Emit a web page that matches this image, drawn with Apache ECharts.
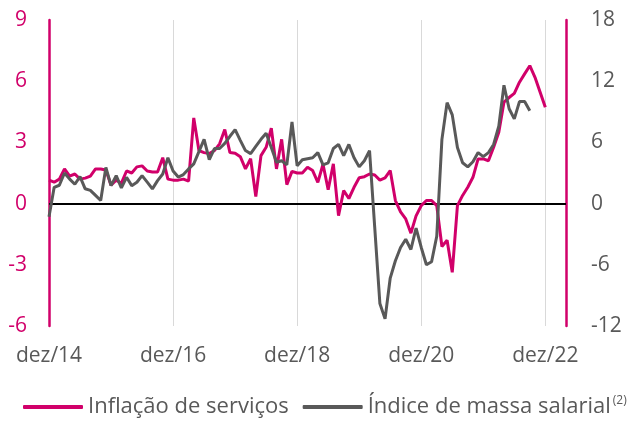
<!DOCTYPE html>
<html>
<head>
<meta charset="utf-8">
<script src="https://cdn.jsdelivr.net/npm/echarts@6/dist/echarts.min.js"></script>
<style>
html,body{margin:0;padding:0;background:#fff;}
#chart{width:637px;height:430px;}
</style>
</head>
<body>
<div id="chart"></div>
<script>
// Monthly categories, dez/14 .. abr/23
const categories = [
 'dez/14',
 'jan/15','fev/15','mar/15','abr/15','mai/15','jun/15','jul/15','ago/15','set/15','out/15','nov/15','dez/15',
 'jan/16','fev/16','mar/16','abr/16','mai/16','jun/16','jul/16','ago/16','set/16','out/16','nov/16','dez/16',
 'jan/17','fev/17','mar/17','abr/17','mai/17','jun/17','jul/17','ago/17','set/17','out/17','nov/17','dez/17',
 'jan/18','fev/18','mar/18','abr/18','mai/18','jun/18','jul/18','ago/18','set/18','out/18','nov/18','dez/18',
 'jan/19','fev/19','mar/19','abr/19','mai/19','jun/19','jul/19','ago/19','set/19','out/19','nov/19','dez/19',
 'jan/20','fev/20','mar/20','abr/20','mai/20','jun/20','jul/20','ago/20','set/20','out/20','nov/20','dez/20',
 'jan/21','fev/21','mar/21','abr/21','mai/21','jun/21','jul/21','ago/21','set/21','out/21','nov/21','dez/21',
 'jan/22','fev/22','mar/22','abr/22','mai/22','jun/22','jul/22','ago/22','set/22','out/22','nov/22','dez/22',
 'jan/23','fev/23','mar/23','abr/23'
];

// Inflação de serviços (left axis, %)
const inflacaoServicos = [
 1.15, 1.05, 1.2, 1.7, 1.35, 1.45, 1.2, 1.25, 1.35, 1.7, 1.7, 1.65, 0.9,
 1.15, 1.0, 1.6, 1.5, 1.8, 1.85, 1.6, 1.55, 1.55, 2.25, 1.2, 1.15,
 1.15, 1.2, 1.1, 4.2, 2.6, 2.5, 2.45, 2.6, 2.93, 3.63, 2.5, 2.47,
 2.3, 1.7, 2.2, 0.35, 2.35, 2.76, 3.7, 1.7, 3.15, 0.93, 1.58, 1.5,
 1.5, 1.78, 1.62, 1.04, 1.93, 0.68, 1.95, -0.59, 0.64, 0.25, 0.8, 1.27,
 1.32, 1.45, 1.4, 1.15, 1.26, 1.62, 0.15, -0.4, -0.75, -1.45, -0.6, -0.1,
 0.15, 0.15, -0.1, -2.1, -1.8, -3.37, -0.1, 0.4, 0.8, 1.29, 2.19, 2.19,
 2.1, 2.76, 3.5, 4.97, 5.2, 5.4, 5.95, 6.36, 6.76, 6.19, 5.46, 4.72
];

// Índice de massa salarial (right axis, %)
const massaSalarial = [
 -1.3, 1.6, 1.8, 3.0, 2.4, 1.9, 2.65, 1.45, 1.3, 0.8, 0.3, 3.55, 1.76,
 2.74, 1.54, 2.58, 1.76, 2.09, 2.74, 2.1, 1.44, 2.25, 2.9, 4.5, 3.2,
 2.6, 2.85, 3.4, 3.9, 5.1, 6.3, 4.3, 5.4, 5.4, 5.9, 6.6, 7.25,
 6.2, 5.2, 4.9, 5.6, 6.3, 6.9, 5.5, 4.05, 4.2, 3.8, 8.0, 3.7,
 4.3, 4.4, 4.5, 5.0, 3.8, 4.0, 5.4, 5.8, 4.7, 5.8, 4.5, 3.6,
 4.2, 5.2, -2.3, -9.8, -11.3, -7.3, -5.6, -4.3, -3.5, -4.5, -2.4, -4.3,
 -6.0, -5.7, -3.2, 6.3, 9.9, 8.7, 5.5, 4.0, 3.6, 4.1, 5.0, 4.6,
 5.0, 5.8, 7.6, 11.6, 9.3, 8.3, 10.0, 10.0, 9.1
];

const leftTicks = { min: -6, max: 9, interval: 3 };
const rightTicks = { min: -12, max: 18, interval: 6 };

const PINK = '#D1006A';
const GRAY = '#595959';
const FONT = 'Open Sans';

const chart = echarts.init(document.getElementById('chart'), null, { renderer: 'canvas' });
chart.setOption({
  animation: false,
  backgroundColor: '#fff',
  grid: { left: 49, right: 71, top: 20, bottom: 104, containLabel: false },
  legend: {
    left: 18,
    top: 390,
    itemWidth: 60,
    itemHeight: 4,
    itemGap: 14,
    icon: 'roundRect',
    data: ['Inflação de serviços', 'Índice de massa salarial'],
    formatter: function (name) {
      if (name === 'Índice de massa salarial') return '{n|' + name + '}{s|(2)}';
      return '{n|' + name + '}';
    },
    textStyle: {
      color: GRAY,
      fontFamily: FONT,
      fontSize: 22,
      lineHeight: 24,
      rich: {
        n: { color: GRAY, fontFamily: FONT, fontSize: 22, lineHeight: 24 },
        s: { color: GRAY, fontFamily: FONT, fontSize: 12, lineHeight: 24, verticalAlign: 'top', padding: [0, 0, 0, 2] }
      }
    }
  },
  xAxis: {
    type: 'category',
    data: categories,
    boundaryGap: false,
    axisLine: { show: false },
    axisTick: { show: false },
    axisLabel: {
      interval: 23,
      margin: 20,
      color: GRAY,
      fontFamily: FONT,
      fontSize: 21
    },
    splitLine: {
      show: true,
      interval: 23,
      lineStyle: { color: '#d9d9d9', width: 1 }
    }
  },
  yAxis: [
    {
      type: 'value',
      position: 'left',
      min: leftTicks.min, max: leftTicks.max, interval: leftTicks.interval,
      axisLine: { show: true, lineStyle: { color: PINK, width: 2.5 } },
      axisTick: { show: false },
      splitLine: { show: false },
      axisLabel: { margin: 22, color: PINK, fontFamily: FONT, fontSize: 21 }
    },
    {
      type: 'value',
      position: 'right',
      min: rightTicks.min, max: rightTicks.max, interval: rightTicks.interval,
      axisLine: { show: true, lineStyle: { color: PINK, width: 2.5 } },
      axisTick: { show: false },
      splitLine: { show: false },
      axisLabel: { margin: 25, color: GRAY, fontFamily: FONT, fontSize: 21 }
    }
  ],
  series: [
    {
      name: 'Inflação de serviços',
      type: 'line',
      yAxisIndex: 0,
      data: inflacaoServicos,
      symbol: 'none',
      lineStyle: { color: PINK, width: 3 },
      itemStyle: { color: PINK },
      z: 2,
      markLine: {
        silent: true,
        symbol: 'none',
        label: { show: false },
        lineStyle: { color: '#000', width: 2, type: 'solid' },
        data: [{ yAxis: 0 }],
        z: 1
      }
    },
    {
      name: 'Índice de massa salarial',
      type: 'line',
      yAxisIndex: 1,
      data: massaSalarial,
      symbol: 'none',
      lineStyle: { color: GRAY, width: 3 },
      itemStyle: { color: GRAY },
      z: 3
    }
  ]
});
</script>
</body>
</html>
